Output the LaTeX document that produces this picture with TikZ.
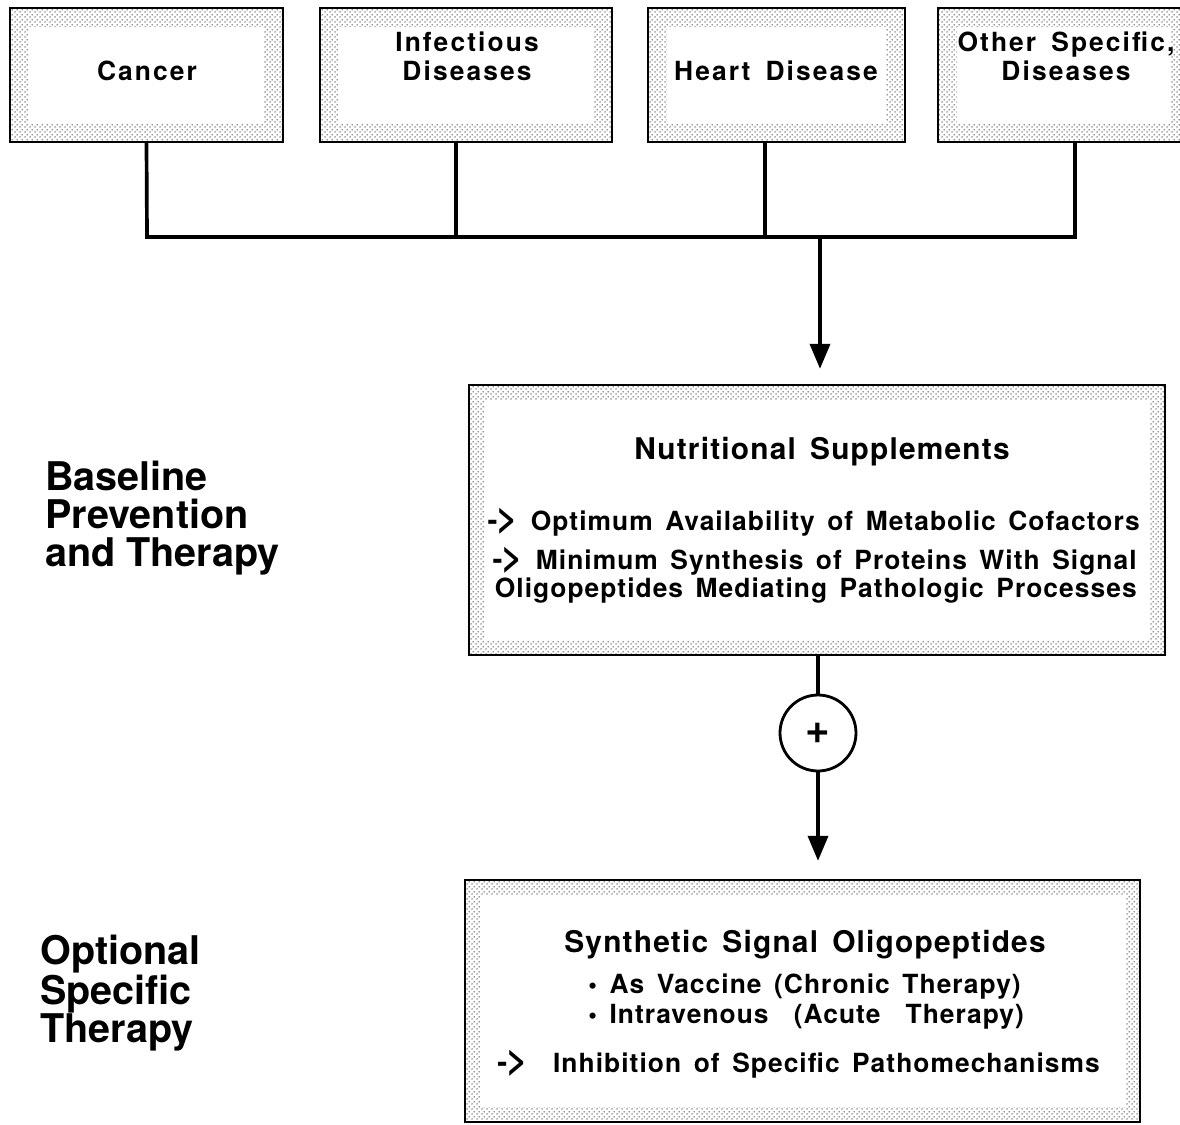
\documentclass[tikz,border=0pt]{standalone}
\usepackage{fontspec}
\setmainfont{TeX Gyre Heros}
\newfontfamily\topfont[LetterSpace=8,WordSpace=1.6]{TeX Gyre Heros}
\newfontfamily\boxfont[LetterSpace=4,WordSpace=1.5]{TeX Gyre Heros}
\usepackage{tikz}
\usetikzlibrary{arrows.meta,patterns.meta}

\newcommand{\arrowmark}{{\fontsize{17}{18}\selectfont -\kern-0.5pt\fontsize{21}{18}\selectfont >}}
\newcommand{\dotmark}{{\fontsize{14}{10}\selectfont\textbullet}}

\tikzdeclarepattern{
  name=stipple, type=uncolored,
  bounding box={(0pt,0pt) and (2.6pt,2.6pt)},
  tile size={(2.6pt,2.6pt)},
  code={
    \fill (0.65pt,0.65pt) circle (0.42pt);
    \fill (1.95pt,1.95pt) circle (0.42pt);
  }
}

\tikzset{
  dotbox/.style={draw, line width=1.4pt, pattern=stipple, pattern color=black!85, inner sep=0pt,
    path picture={\fill[white] ([shift={(#1,#1)}]path picture bounding box.south west)
      rectangle ([shift={(-#1,-#1)}]path picture bounding box.north east);}},
  toptext/.style={font=\topfont\bfseries\fontsize{15}{16.5}\selectfont, align=center, inner sep=0pt},
  boxhead/.style={font=\boxfont\bfseries\fontsize{17}{20}\selectfont, inner sep=0pt},
  boxtext/.style={font=\boxfont\bfseries\fontsize{15}{18}\selectfont, inner sep=0pt},
  sidelabel/.style={font=\bfseries\fontsize{22.5}{21.5}\selectfont, align=left, inner sep=0pt},
  conn/.style={line width=2.1pt},
  arr/.style={line width=2.1pt, -{Triangle[length=0.5cm,width=0.4cm]}},
}

\begin{document}
\begin{tikzpicture}[x=0.02cm, y=-0.02cm]

\useasboundingbox (0,0) rectangle (1180,1125);
\clip (0,0) rectangle (1180,1125);

% disease boxes
\node[dotbox=0.38cm, minimum width=5.46cm, minimum height=2.68cm] (cancer) at (146.5,75) {};
\node[dotbox=0.38cm, minimum width=5.84cm, minimum height=2.68cm] (infect) at (466,75) {};
\node[dotbox=0.38cm, minimum width=5.14cm, minimum height=2.68cm] (heart) at (776.5,75) {};
\node[dotbox=0.38cm, minimum width=5.04cm, minimum height=2.68cm] (other) at (1064,75) {};

\node[toptext] (cancertxt) at (147,71) {Cancer};
\node[toptext] (infecttxt) at (467,56.5) {Infectious\\Diseases};
\node[toptext] (hearttxt) at (776,71) {Heart Disease};
\node[toptext] (othertxt) at (1066,56.5) {Other Specific,\\Diseases};

% bus line
\coordinate (b1) at (147,237);
\coordinate (b2) at (456,237);
\coordinate (b3) at (765,237);
\coordinate (b4) at (1075,237);

\draw[conn] (cancer.south) -- (b1) -- (b4) -- (b4 |- other.south);
\draw[conn] (b2) -- (b2 |- infect.south);
\draw[conn] (b3) -- (b3 |- heart.south);

% baseline box
\node[dotbox=0.3cm, minimum width=13.92cm, minimum height=5.4cm] (nutri) at (817,520) {};

\node[boxhead] (nutrihead) at (822,452) {Nutritional Supplements};
\node[boxtext, anchor=east] (nutri1) at (1140,522) {\arrowmark\ Optimum Availability of Metabolic Cofactors};
\node[boxtext, anchor=east] (nutri2) at (1137,561) {\arrowmark\ Minimum Synthesis of Proteins With Signal};
\node[boxtext, anchor=east] (nutri3) at (1137,591) {Oligopeptides Mediating Pathologic Processes};

\coordinate (bus) at (820,237);
\draw[arr, shorten >=0.3cm] (bus) -- (bus |- nutri.north);

% plus and specific box
\node[draw, circle, line width=1.6pt, minimum size=1.52cm, inner sep=0pt, font=\bfseries\fontsize{24}{24}\selectfont] (plus) at (818,733) {+};

\node[dotbox=0.3cm, minimum width=13.5cm, minimum height=4.84cm] (ther) at (802.5,1001) {};

\node[boxhead] (therhead) at (805,945) {Synthetic Signal Oligopeptides};
\node[boxtext, anchor=west] (ther1) at (588,987) {\dotmark\ As Vaccine (Chronic Therapy)};
\node[boxtext, anchor=west] (ther2) at (588,1017) {\dotmark\ Intravenous\ \ (Acute\ \ Therapy)};
\node[boxtext, anchor=west] (ther3) at (497,1064) {\arrowmark\ \ Inhibition of Specific Pathomechanisms};

\draw[conn] (nutri.south -| plus) -- (plus.north);
\draw[arr, shorten >=0.36cm] (plus.south) -- (plus.south |- ther.north);

% side labels
\node[sidelabel, anchor=west] (baseline) at (45,518) {Baseline\\Prevention\\and Therapy};
\node[sidelabel, anchor=west] (optional) at (40,993) {Optional\\Specific\\Therapy};

\end{tikzpicture}
\end{document}
